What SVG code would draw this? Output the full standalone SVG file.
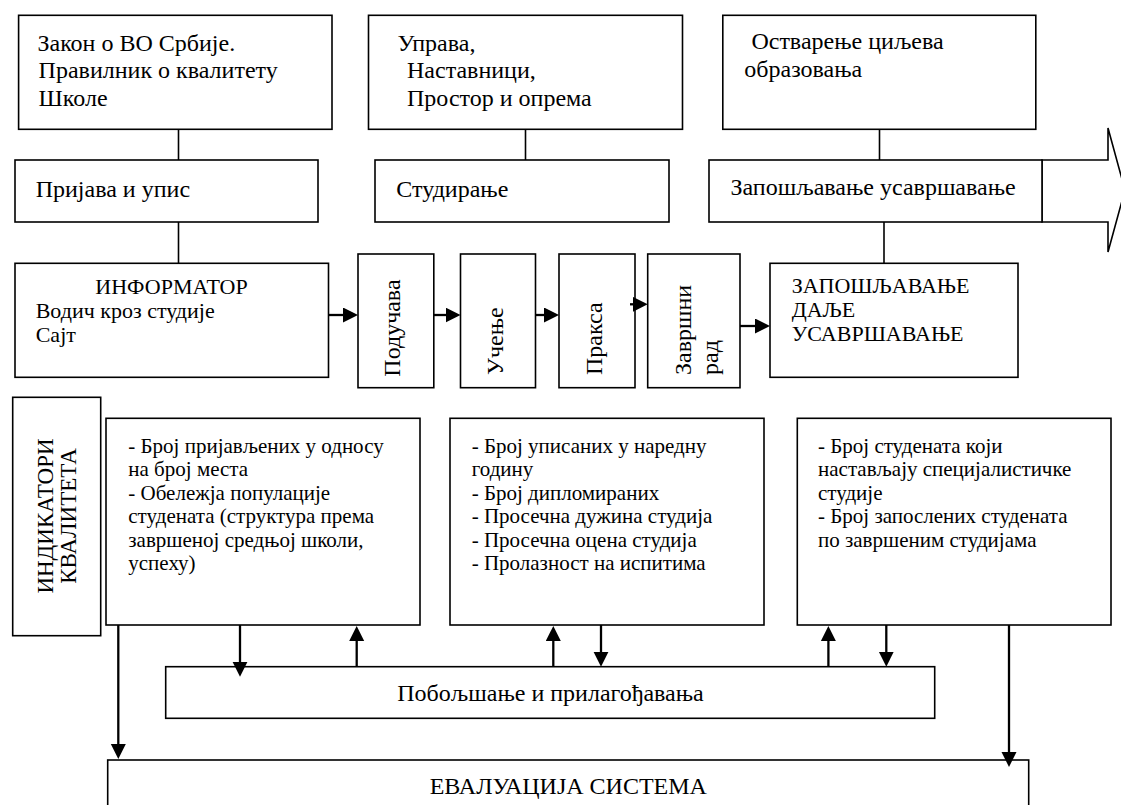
<svg xmlns="http://www.w3.org/2000/svg" width="1121" height="805" viewBox="0 0 1121 805" font-family="'Liberation Serif', 'DejaVu Serif', serif">
<defs>
<style>
.box{fill:#fff;stroke:#000;stroke-width:1.6}
.t{font-size:21px;fill:#000}
.tm{font-size:22px;fill:#000}
.tl{font-size:24px;fill:#000}
.tv{font-size:24px;fill:#000}
.ti{font-size:23px;fill:#000}
.ln{stroke:#000;stroke-width:1.6;fill:none}
.ar{stroke:#000;stroke-width:2.3;fill:none;marker-end:url(#ah)}
</style>
<marker id="ah" markerUnits="userSpaceOnUse" markerWidth="16" markerHeight="16" refX="11" refY="7.5" orient="auto" viewBox="0 0 16 16"><path d="M0,0 L15,7.5 L0,15 z" fill="#000"/></marker>
</defs>
<rect width="1121" height="805" fill="#fff"/>

<g id="n-zakon">
<rect class="box" x="18.6" y="15.3" width="313.4" height="114"/>
<text class="tl" x="37.5" y="50.5">Закон о ВО Србије.</text>
<text class="tl" x="38.6" y="78.3">Правилник о квалитету</text>
<text class="tl" x="38.6" y="106">Школе</text>
</g>
<g id="n-uprava">
<rect class="box" x="368.5" y="15.3" width="314" height="114"/>
<text class="tl" x="397.4" y="50.5">Управа,</text>
<text class="tl" x="407" y="78.3">Наставници,</text>
<text class="tl" x="407" y="106">Простор и опрема</text>
</g>
<g id="n-ostvarenje">
<rect class="box" x="722.8" y="15.3" width="313" height="114"/>
<text class="tl" x="751.4" y="49">Остварење циљева</text>
<text class="tl" x="744.3" y="77.3">образовања</text>
</g>
<g id="n-prijava">
<rect class="box" x="15" y="160" width="303" height="62"/>
<text class="tl" x="35.7" y="197">Пријава и упис</text>
</g>
<g id="n-studiranje">
<rect class="box" x="375" y="160" width="294" height="62"/>
<text class="tl" x="396.3" y="197">Студирање</text>
</g>
<g id="n-zaposljavanje">
<polygon class="box" points="1042,160 1108,160 1108,128 1125,190 1108,252 1108,222 1042,222"/>
<rect class="box" x="709" y="160" width="333" height="62"/>
<text class="tl" x="730.5" y="194.5">Запошљавање усавршавање</text>
</g>
<g id="n-informator">
<rect class="box" x="15" y="263.3" width="313.5" height="114"/>
<text class="tm" x="171.5" y="294.3" text-anchor="middle">ИНФОРМАТОР</text>
<text class="tm" x="35.7" y="318">Водич кроз студије</text>
<text class="tm" x="35.7" y="341.7">Сајт</text>
</g>
<g id="n-poducava">
<rect class="box" x="358" y="254" width="75.8" height="133.7"/>
<text class="tv" transform="translate(400,376.7) rotate(-90)">Подучава</text>
</g>
<g id="n-ucenje">
<rect class="box" x="460.5" y="254" width="75" height="133.7"/>
<text class="tv" transform="translate(502.5,375) rotate(-90)">Учење</text>
</g>
<g id="n-praksa">
<rect class="box" x="559" y="254" width="76" height="133.7"/>
<text class="tv" transform="translate(602,375) rotate(-90)">Пракса</text>
</g>
<g id="n-zavrsni">
<rect class="box" x="647.7" y="254" width="92.3" height="133.7"/>
<text class="tv" transform="translate(690.5,375) rotate(-90)">Завршни</text>
<text class="tv" transform="translate(718,375) rotate(-90)">рад</text>
</g>
<g id="n-zaposljavanje2">
<rect class="box" x="770" y="263.3" width="248" height="114"/>
<text class="tm" x="791.7" y="293.3">ЗАПОШЉАВАЊЕ</text>
<text class="tm" x="791.7" y="316.7">ДАЉЕ</text>
<text class="tm" x="791.7" y="340.5">УСАВРШАВАЊЕ</text>
</g>
<g id="n-indikatori">
<rect class="box" x="12.7" y="397.3" width="88" height="238.4"/>
<text class="ti" transform="translate(53.3,516) rotate(-90)" text-anchor="middle">ИНДИКАТОРИ</text>
<text class="ti" transform="translate(76,516) rotate(-90)" text-anchor="middle">КВАЛИТЕТА</text>
</g>
<g id="n-ind1">
<rect class="box" x="106" y="418.3" width="314" height="206.7"/>
<text class="t" x="128.3" y="452.5">- Број пријављених у односу</text>
<text class="t" x="128.3" y="476">на број места</text>
<text class="t" x="128.3" y="499.5">- Обележја популације</text>
<text class="t" x="128.3" y="523">студената (структура према</text>
<text class="t" x="128.3" y="546.5">завршеној средњој школи,</text>
<text class="t" x="128.3" y="570">успеху)</text>
</g>
<g id="n-ind2">
<rect class="box" x="450" y="418.3" width="314" height="206.7"/>
<text class="t" x="471.7" y="452.5">- Број уписаних у наредну</text>
<text class="t" x="471.7" y="476">годину</text>
<text class="t" x="471.7" y="499.5">- Број дипломираних</text>
<text class="t" x="471.7" y="523">- Просечна дужина студија</text>
<text class="t" x="471.7" y="546.5">- Просечна оцена студија</text>
<text class="t" x="471.7" y="570">- Пролазност на испитима</text>
</g>
<g id="n-ind3">
<rect class="box" x="797.3" y="418.3" width="313.7" height="206.7"/>
<text class="t" x="818" y="452.5">- Број студената који</text>
<text class="t" x="818" y="476">настављају специјалистичке</text>
<text class="t" x="818" y="499.5">студије</text>
<text class="t" x="818" y="523">- Број запослених студената</text>
<text class="t" x="818" y="546.5">по завршеним студијама</text>
</g>
<g id="n-poboljsanje">
<rect class="box" x="165.7" y="666.7" width="769" height="51.6"/>
<text class="tl" x="550.5" y="700.5" text-anchor="middle">Побољшање и прилагођавања</text>
</g>
<g id="n-evaluacija">
<rect class="box" x="107.7" y="760" width="921" height="60"/>
<text class="tl" x="568.3" y="794" text-anchor="middle">ЕВАЛУАЦИЈА СИСТЕМА</text>
</g>

<g id="connectors">
<line class="ln" x1="178.5" y1="129.3" x2="178.5" y2="160"/>
<line class="ln" x1="178.5" y1="222" x2="178.5" y2="263.3"/>
<line class="ln" x1="525.5" y1="129.3" x2="525.5" y2="160"/>
<line class="ln" x1="879.5" y1="129.3" x2="879.5" y2="160"/>
<line class="ln" x1="884" y1="222" x2="884" y2="263.3"/>
<line class="ar" x1="328.5" y1="315" x2="354" y2="315"/>
<line class="ar" x1="433.8" y1="315" x2="456.5" y2="315"/>
<line class="ar" x1="535.5" y1="315" x2="555" y2="315"/>
<line class="ar" x1="630" y1="304.3" x2="643.7" y2="304.3"/>
<line class="ar" x1="740" y1="326" x2="766" y2="326"/>
<line class="ar" x1="240" y1="625" x2="240" y2="672.7"/>
<line class="ar" x1="356.7" y1="666.7" x2="356.7" y2="630"/>
<line class="ar" x1="553.3" y1="666.7" x2="553.3" y2="630"/>
<line class="ar" x1="601" y1="625" x2="601" y2="662.7"/>
<line class="ar" x1="828.4" y1="666.7" x2="828.4" y2="630"/>
<line class="ar" x1="886.3" y1="625" x2="886.3" y2="662.7"/>
<line class="ar" x1="118.3" y1="625" x2="118.3" y2="755"/>
<line class="ar" x1="1009" y1="625" x2="1009" y2="763"/>
</g>
</svg>
